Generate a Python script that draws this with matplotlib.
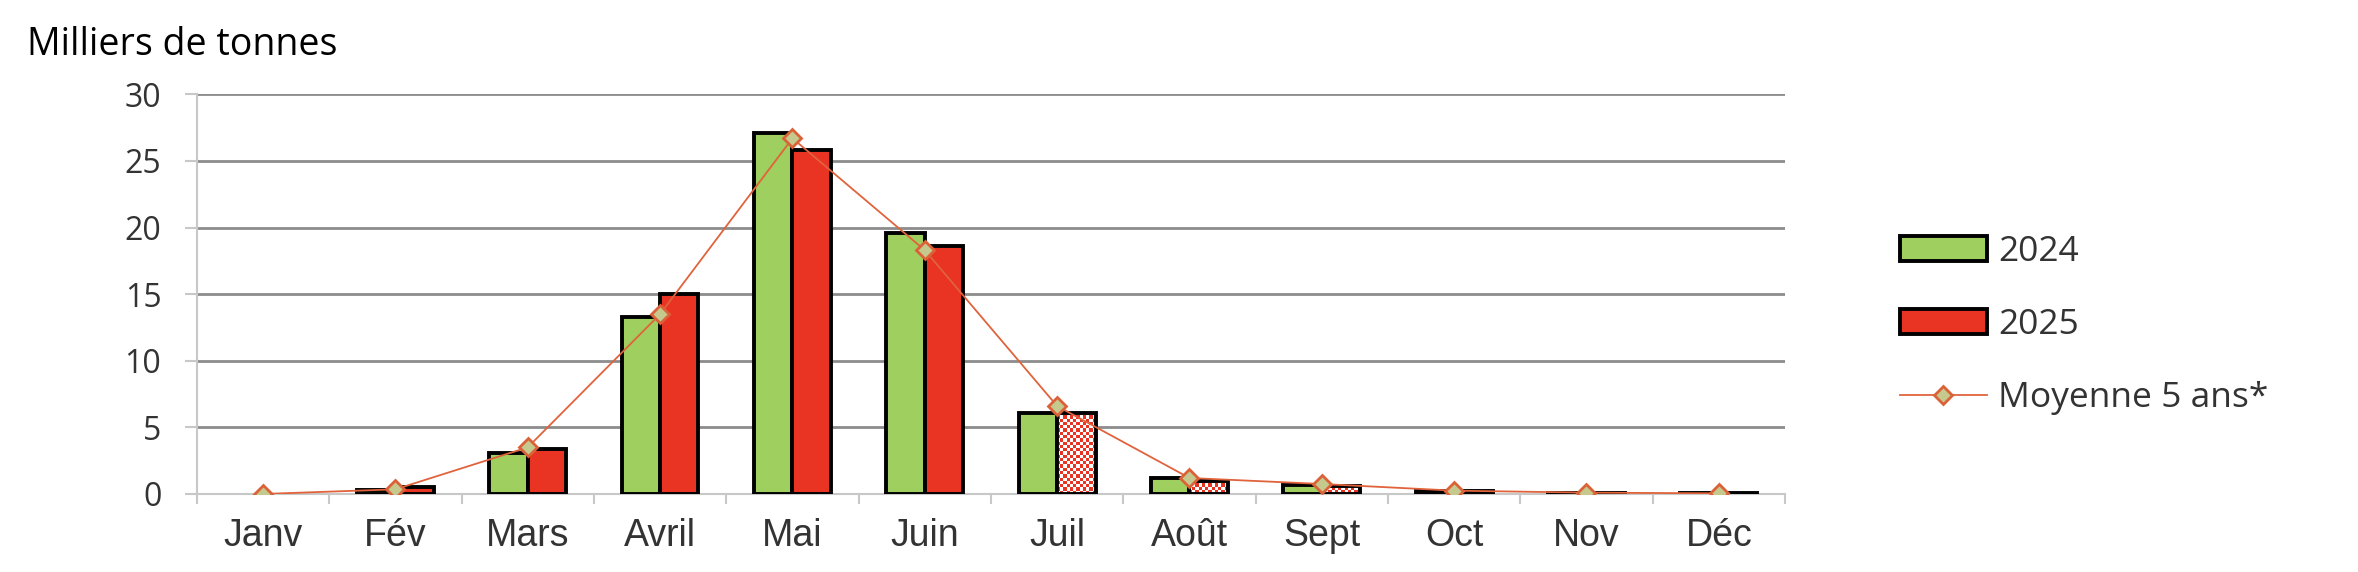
import numpy as np
import matplotlib.pyplot as plt
from matplotlib.patches import Patch
from matplotlib.lines import Line2D
from matplotlib.colors import ListedColormap

# Données (milliers de tonnes)
mois = ['Janv', 'Fév', 'Mars', 'Avril', 'Mai', 'Juin', 'Juil', 'Août', 'Sept', 'Oct', 'Nov', 'Déc']
val_2024 = [np.nan, 0.3, 3.1, 13.3, 27.1, 19.6, 6.1, 1.2, 0.7, 0.2, 0.1, 0.05]
val_2025 = [np.nan, 0.5, 3.4, 15.0, 25.8, 18.6, 6.1, 1.0, 0.6, 0.2, 0.1, 0.05]
moyenne_5ans = [0.0, 0.35, 3.5, 13.5, 26.7, 18.3, 6.6, 1.2, 0.75, 0.25, 0.1, 0.05]
provisoire_2025 = [False, False, False, False, False, False, True, True, True, False, False, False]

vert = '#9FCF5F'
rouge = '#E93323'
orange = '#E0633C'
police = ['Open Sans', 'DejaVu Sans']

fig = plt.figure(figsize=(23.58, 5.72), dpi=100)
ax = fig.add_axes([0.0835, 0.1364, 0.757 - 0.0835, 0.8351 - 0.1364])

x = np.arange(len(mois))
w = 0.29
lw_bar = 2.8
px_par_unite = 13.32   # hauteur d'une unité en pixels
px_par_cat = 132.3     # largeur d'une catégorie en pixels
cellule = 3.2          # taille d'une case du damier en pixels

ax.bar(x - w / 2, val_2024, w, color=vert, edgecolor='black', linewidth=lw_bar, zorder=3)
for i, (v, p) in enumerate(zip(val_2025, provisoire_2025)):
    if np.isnan(v):
        continue
    if p:
        # barre provisoire : damier rouge et blanc
        bars = ax.bar(x[i] + w / 2, v, w, fill=False, edgecolor='black', linewidth=lw_bar, zorder=4)
        nx = max(1, int(round(w * px_par_cat / cellule)))
        ny = max(1, int(round(v * px_par_unite / cellule)))
        damier = np.indices((ny, nx)).sum(axis=0) % 2
        im = ax.imshow(damier, cmap=ListedColormap(['white', rouge]), aspect='auto',
                       interpolation='nearest', extent=(x[i], x[i] + w, 0, v), zorder=3)
        im.set_clip_path(bars[0])
    else:
        ax.bar(x[i] + w / 2, v, w, color=rouge, edgecolor='black', linewidth=lw_bar, zorder=3)

ax.plot(x, moyenne_5ans, color=orange, linewidth=1.3, marker='D', markersize=9,
        markerfacecolor='#C5C98E', markeredgecolor='#DB6238', markeredgewidth=2, zorder=5)

ax.set_xlim(-0.5, len(mois) - 0.5)
ax.set_ylim(0, 30)
ax.set_aspect('auto')
ax.set_yticks(range(0, 31, 5))
ax.yaxis.grid(True, color='#8C8C8C', linewidth=2)
ax.set_axisbelow(True)

ax.set_xticks(x)
ax.set_xticklabels(mois, fontsize=27, family=['Liberation Sans', 'DejaVu Sans'], color='#333333')
ax.set_xticks(np.arange(-0.5, len(mois), 1), minor=True)
ax.tick_params(axis='x', which='major', length=0, pad=17)
ax.tick_params(axis='x', which='minor', length=7.2, width=1.5, color='#C8C8C8')
ax.tick_params(axis='y', length=8.6, width=1.5, color='#C8C8C8', labelsize=23,
               labelcolor='#333333', pad=17)
for lab in ax.get_yticklabels():
    lab.set_family(police)

for s in ['top', 'right']:
    ax.spines[s].set_visible(False)
ax.spines['left'].set_color('#C8C8C8')
ax.spines['left'].set_linewidth(1.5)
ax.spines['bottom'].set_color('#C8C8C8')
ax.spines['bottom'].set_linewidth(1.5)

fig.text(27 / 2358, 1 - 55 / 572, 'Milliers de tonnes', fontsize=27, family=police,
         color='black', ha='left', va='baseline')

handles = [
    Patch(facecolor=vert, edgecolor='black', linewidth=2.8),
    Patch(facecolor=rouge, edgecolor='black', linewidth=2.8),
    Line2D([], [], color=orange, linewidth=1.3, marker='D', markersize=9,
           markerfacecolor='#C5C98E', markeredgecolor='#DB6238', markeredgewidth=2),
]
fig.legend(handles, ['2024', '2025', 'Moyenne 5 ans*'], loc='center left',
           bbox_to_anchor=(1900 / 2358, 1 - 325 / 572), frameon=False,
           prop={'family': police, 'size': 25.5}, labelcolor='#333333',
           handlelength=2.45, handleheight=0.7, handletextpad=0.33, labelspacing=1.1,
           borderpad=0, borderaxespad=0)

fig.savefig('out.png', dpi=100)
